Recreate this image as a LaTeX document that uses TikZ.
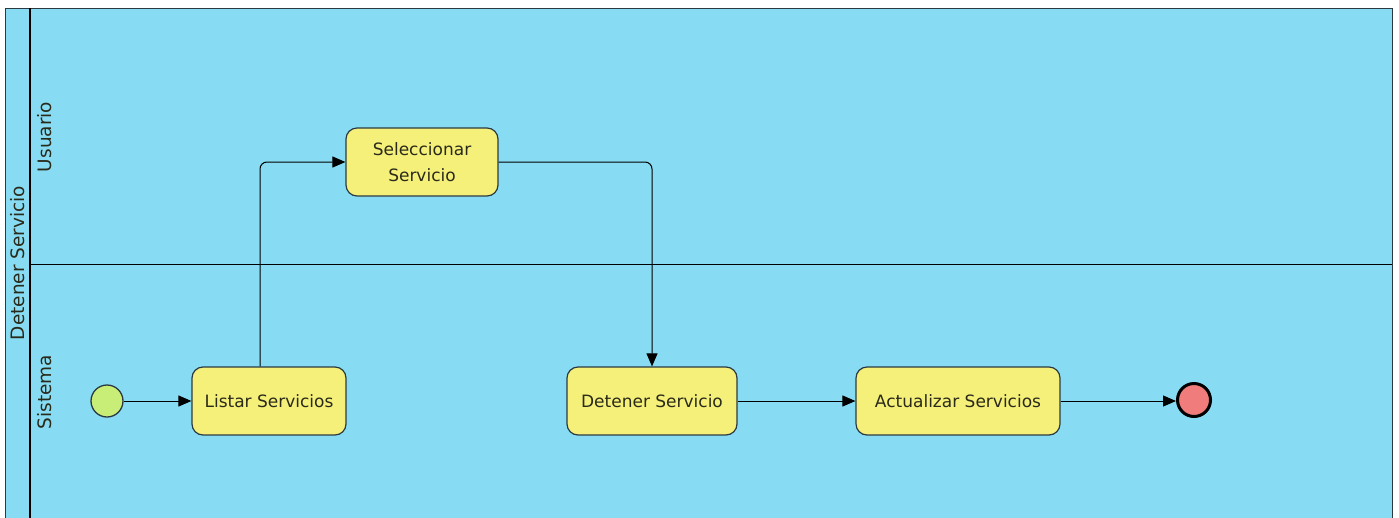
\documentclass[tikz,border=0pt]{standalone}
\usepackage{fontspec}
\setmainfont{DejaVu Sans}
\usetikzlibrary{arrows.meta}
\definecolor{lanebg}{HTML}{87DCF3}
\definecolor{taskfill}{HTML}{F5F07A}
\definecolor{startfill}{HTML}{C8EE78}
\definecolor{endfill}{HTML}{F07C7C}
\definecolor{edgecol}{HTML}{2B3A42}
\definecolor{txt}{HTML}{2A2A1A}
\tikzset{
  x=1pt, y=-1pt,
  task/.style={draw=edgecol, line width=1.2pt, fill=taskfill, rounded corners=11pt, minimum height=68pt, align=center, font=\fontsize{17}{26}\selectfont, text=txt, inner sep=2pt},
  flow/.style={draw=black, line width=1pt, -{Triangle[length=13pt,width=11pt]}, rounded corners=7pt},
  lanelabel/.style={rotate=90, font=\fontsize{18.5}{22}\selectfont, text=txt}
}
\begin{document}
\begin{tikzpicture}
\useasboundingbox (0,0) rectangle (1399,517);
\fill[white] (0,0) rectangle (1399,517);
% pool
\fill[lanebg] (5,8) rectangle (1392,520);
\draw[edgecol, line width=1pt] (5,520) -- (5,8) -- (1392,8) -- (1392,520);
\draw[black, line width=2.2pt] (30,8) -- (30,520);
\draw[black, line width=1pt] (30,264) -- (1392,264);
\node[lanelabel] (pool) at (18,263) {Detener Servicio};
\node[lanelabel] (lu) at (45,137) {Usuario};
\node[lanelabel] (ls) at (45,392) {Sistema};
% nodes
\node[circle, draw=edgecol, line width=1.3pt, fill=startfill, minimum size=32pt, inner sep=0pt] (start) at (107,401) {};
\node[task, minimum width=154pt] (listar) at (269,401) {Listar Servicios};
\node[task, minimum width=152pt] (sel) at (422,162) {Seleccionar\\Servicio};
\node[task, minimum width=170pt] (det) at (652,401) {Detener Servicio};
\node[task, minimum width=204pt] (act) at (958,401) {Actualizar Servicios};
\node[circle, draw=black, line width=3pt, fill=endfill, minimum size=33pt, inner sep=0pt] (end) at (1194,400) {};
% flows
\draw[flow] (start) -- (listar);
\draw[flow] (listar.north -| 260,0) |- (sel.west);
\draw[flow] (sel.east) -| (det.north);
\draw[flow] (det) -- (act);
\draw[flow] (act.east) -- (end.west |- act.east);
\end{tikzpicture}
\end{document}
